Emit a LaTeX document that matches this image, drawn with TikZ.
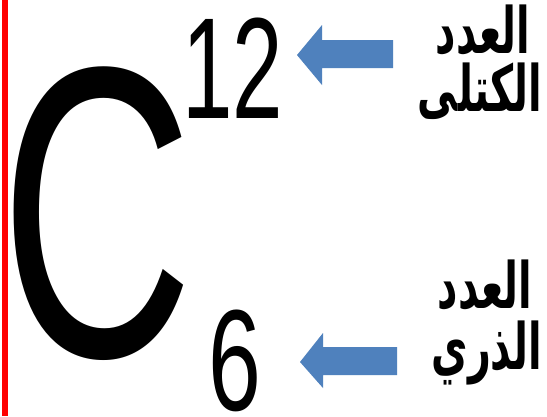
\documentclass[tikz,border=0pt]{standalone}
\usepackage{fontspec}
\setmainfont{Liberation Sans}
\newfontfamily\arabicfont[Script=Arabic]{DejaVu Sans}
\TeXXeTstate=1
\definecolor{arrowblue}{HTML}{4F81BD}
\begin{document}
\begin{tikzpicture}[x=1pt,y=-1pt,
  glyph/.style={inner sep=0pt,outer sep=0pt,anchor=base,text depth=0pt,font=#1},
  artext/.style={inner sep=0pt,outer sep=0pt,anchor=base,xscale=0.62,font=\arabicfont\bfseries\fontsize{64}{64}\selectfont},
  blockarrow/.style={fill=arrowblue,draw=none}]
\useasboundingbox (0,0) rectangle (547,416);
\fill[white] (0,0) rectangle (547,416);
% red left bar
\fill[red] (2,0) rectangle (8,416);
% symbol and numbers
\node[glyph=\fontsize{415}{415}\selectfont,xscale=0.645,text height=297pt] (C) at (97.5,356) {C};
\node[glyph=\fontsize{144}{144}\selectfont,xscale=0.63,text height=103pt] (mass) at (233,118) {12};
\node[glyph=\fontsize{144}{144}\selectfont,xscale=0.66,text height=103pt] (num) at (235,410) {6};
% arrows
\fill[blockarrow] (297,55) -- (322,25) -- (322,40) -- (393,40) -- (393,68) -- (322,68) -- (322,85) -- cycle;
\fill[blockarrow] (300,362) -- (323,333) -- (323,347) -- (397,347) -- (397,375) -- (323,375) -- (323,388) -- cycle;
% Arabic labels
\node[artext] (m1) at (483,53) {\beginR العدد\endR};
\node[artext] (m2) at (480,111) {\beginR الكتلى\endR};
\node[artext] (z1) at (485,308) {\beginR العدد\endR};
\node[artext] (z2) at (487,369) {\beginR الذري\endR};
\end{tikzpicture}
\end{document}
